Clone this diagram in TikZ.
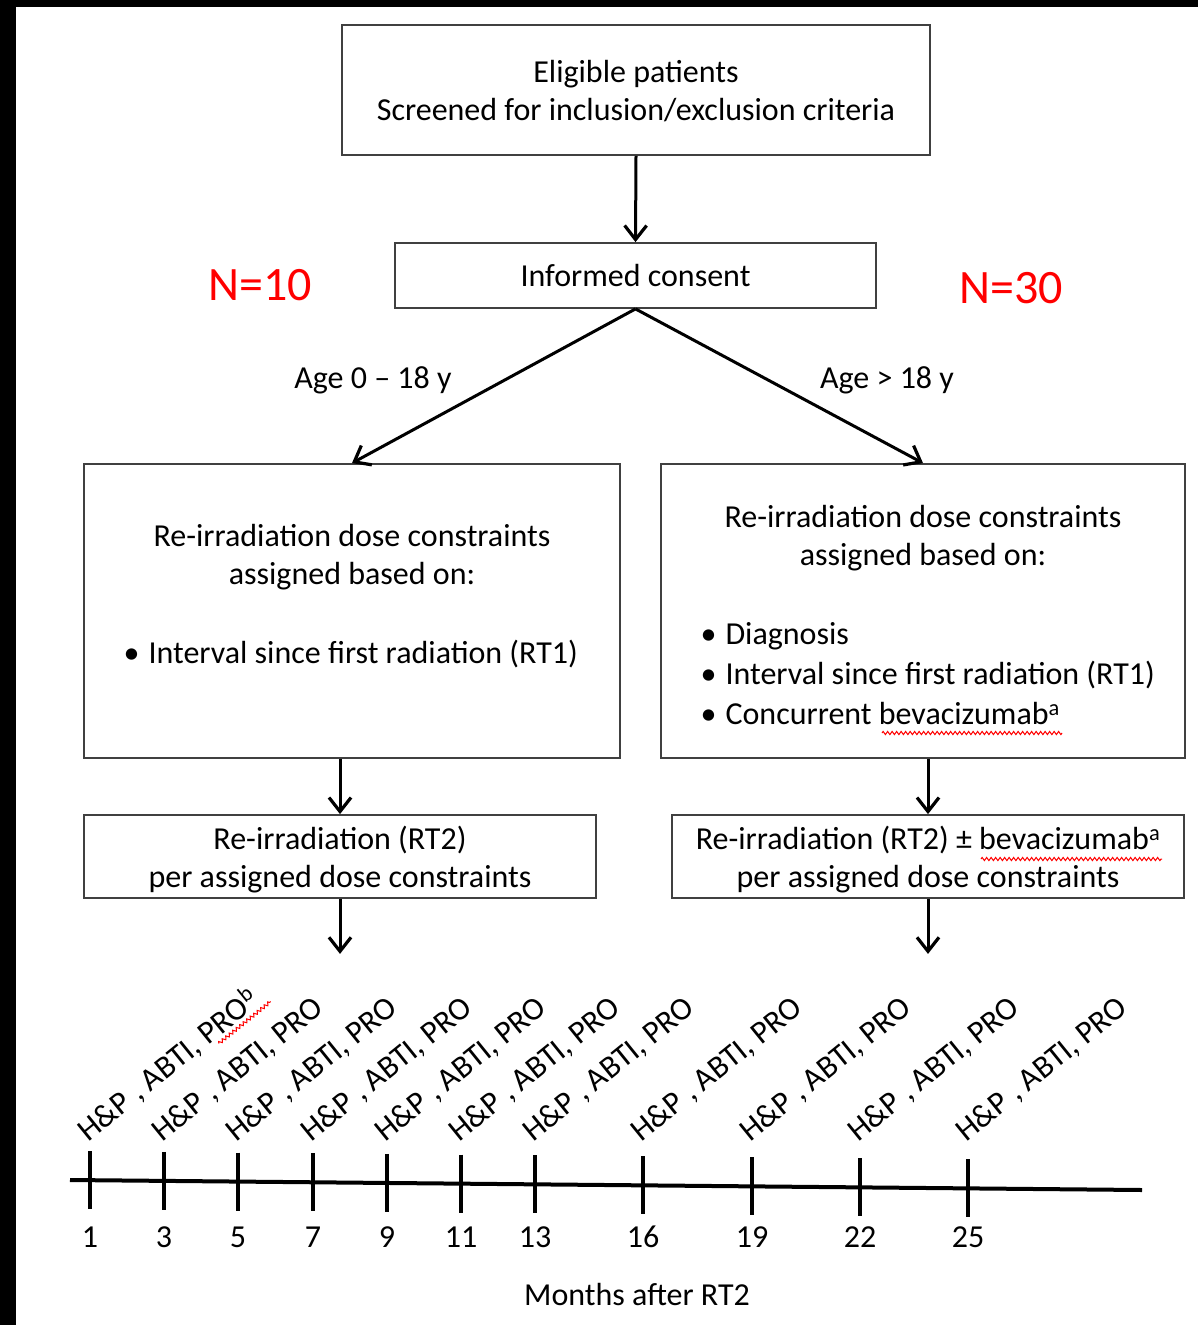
\documentclass[tikz,border=0pt]{standalone}
\usepackage{fontspec}
\setmainfont{Carlito}
\usetikzlibrary{arrows.meta,calc,decorations.pathmorphing}

\newcommand\bul{\makebox[25pt][l]{•}}

\tikzset{
  box/.style={draw=black!75,line width=1.8pt,inner sep=0pt,align=center,text depth=0pt,font=\fontsize{32}{38}\selectfont},
  txt/.style={font=\fontsize{32}{38}\selectfont},
  visit/.style={font=\fontsize{32}{38}\selectfont,rotate=39,anchor=base west,inner sep=0pt},
  arr/.style={line width=3pt,-{Straight Barb[length=14pt,width=22pt,line width=3.2pt]}},
  squig/.style={red,line width=1pt,decorate,decoration={zigzag,amplitude=1.6pt,segment length=4.5pt}},
}

\begin{document}
\begin{tikzpicture}[x=1pt,y=-1pt]
    \useasboundingbox (0,0) rectangle (1198,1325);
    \fill[black] (0,0) rectangle (16,1325);
    \fill[black] (0,0) rectangle (1198,7);

    \begin{scope}[every node/.style={box}]
        \node[minimum width=588pt,minimum height=130pt] (elig) at (636,90) {Eligible patients\\Screened for inclusion/exclusion criteria};
        \node[minimum width=481pt,minimum height=65pt] (consent) at (635.5,275.5) {Informed consent};
        \node[minimum width=536pt,minimum height=294pt] (rulel) at (352,611) {};
        \node[minimum width=524pt,minimum height=294pt] (ruler) at (923,611) {};
        \node[minimum width=512pt,minimum height=83pt] (rtl) at (340,856.5) {Re-irradiation (RT2)\\per assigned dose constraints};
        \node[minimum width=512pt,minimum height=83pt] (rtr) at (928,856.5) {Re-irradiation (RT2) ± bevacizumab\textsuperscript{a}\\per assigned dose constraints};
    \end{scope}

    % box contents
    \node[txt,align=center] (headl) at (352,557) {Re-irradiation dose constraints\\assigned based on:};
    \node[txt,anchor=west] (iteml) at (120,654) {\bul Interval since first radiation (RT1)};
    \node[txt,align=center] (headr) at (923,538) {Re-irradiation dose constraints\\assigned based on:};
    \node[txt,anchor=west,align=left,font=\fontsize{32}{40}\selectfont] (itemr) at (697,674) {\bul Diagnosis\\\bul Interval since first radiation (RT1)\\\bul Concurrent bevacizumab\textsuperscript{a}};

    % arms
    \node[red,font=\fontsize{48}{48}\selectfont] (nl) at (260,285) {N=10};
    \node[red,font=\fontsize{48}{48}\selectfont] (nr) at (1011,288) {N=30};
    \node[txt] (agel) at (373,380) {Age 0 – 18 y};
    \node[txt] (ager) at (887,380) {Age > 18 y};

    \begin{scope}[arr]
        \draw (elig.south)--(consent.north);
        \draw (consent.south)--(rulel.north);
        \draw (consent.south)--(ruler.north);
        \draw (rtl.north |- rulel.south)--(rtl.north);
        \draw (rtr.north |- ruler.south)--(rtr.north);
        \coordinate (endl) at ($(rtl.south)+(0,55)$);
        \coordinate (endr) at ($(rtr.south)+(0,55)$);
        \draw (rtl.south)--(endl);
        \draw (rtr.south)--(endr);
    \end{scope}

    % timeline
    \coordinate (ax0) at (70,1180);
    \coordinate (ax1) at (1142,1190);
    \draw[line width=4pt] (ax0)--(ax1);
    \foreach \x/\m in {90/1,164/3,238/5,313/7,387/9,461/11,535/13,643/16,752/19,860/22,968/25} {
        \coordinate (t\m) at ($(ax0)!{(\x-70)/1072}!(ax1)$);
        \draw[line width=4pt] ($(t\m)+(0,-29)$)--($(t\m)+(0,29)$);
        \node[txt] (m\m) at (\x,1237) {\m};
        \node[visit] (v\m) at (\x-2,1143) {H\&P , ABTI, PRO\ifnum\m=1 \textsuperscript{b}\fi};
    }
    \node[txt] (months) at (637,1294) {Months after RT2};

    % spell-check marks
    \draw[squig] (882,733)--(1062,733);
    \draw[squig] (981,859)--(1162,859);
    \draw[squig] ($(v1.base west)!0.74!(v1.base east)+(3,4)$)--($(v1.base west)!1.04!(v1.base east)+(3,4)$);
\end{tikzpicture}
\end{document}
